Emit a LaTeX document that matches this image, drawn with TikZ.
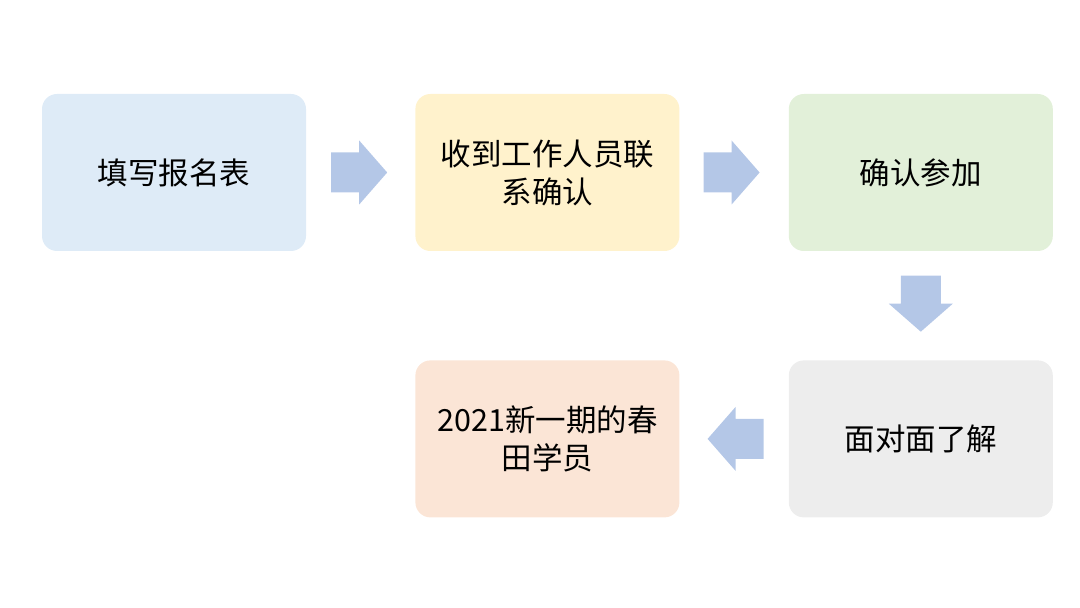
\documentclass[tikz,border=0pt]{standalone}
\usepackage{fontspec}
\setmainfont{Noto Sans CJK SC}
\usetikzlibrary{positioning,calc}

\definecolor{boxblue}{HTML}{DEEBF7}
\definecolor{boxgold}{HTML}{FFF2CC}
\definecolor{boxgreen}{HTML}{E2F0D9}
\definecolor{boxgray}{HTML}{EDEDED}
\definecolor{boxpeach}{HTML}{FBE5D6}
\definecolor{arrowblue}{HTML}{B4C7E7}

\tikzset{
  stagebox/.style={rectangle, rounded corners=15pt, minimum width=264pt,
    minimum height=157pt, inner sep=0pt, align=center,
    font=\fontsize{30.5pt}{38pt}\selectfont},
  pics/flowarrow/.style={code={
    \fill[arrowblue] (-28pt,-20pt) -- (0pt,-20pt) -- (0pt,-32pt) -- (28pt,0pt)
      -- (0pt,32pt) -- (0pt,20pt) -- (-28pt,20pt) -- cycle;
  }}
}

\begin{document}
\begin{tikzpicture}
  \useasboundingbox (0,0) rectangle (1080pt,608pt);
  % Tell it where the boxes are
  \node (signup) [stagebox, fill=boxblue] at (174pt,435.5pt) {填写报名表};
  \node (contact) [stagebox, fill=boxgold, right=109pt of signup] {收到工作人员联\\系确认};
  \node (confirm) [stagebox, fill=boxgreen, right=109pt of contact] {确认参加};
  \node (meet) [stagebox, fill=boxgray, below=109pt of confirm] {面对面了解};
  \node (student) [stagebox, fill=boxpeach, left=109pt of meet] {2021新一期的春\\田学员};
  % Tell it where the arrows go
  \coordinate (midA) at ($(signup.east)!0.5!(contact.west)$);
  \coordinate (midB) at ($(contact.east)!0.5!(confirm.west)$);
  \coordinate (midC) at ($(confirm.south)!0.5!(meet.north)$);
  \coordinate (midD) at ($(meet.west)!0.5!(student.east)$);
  \pic at ([xshift=-1.5pt]midA) {flowarrow};
  \pic at ([xshift=-2.5pt]midB) {flowarrow};
  \pic[rotate=-90] at ([yshift=2pt]midC) {flowarrow};
  \pic[rotate=180] at ([xshift=1.5pt]midD) {flowarrow};
\end{tikzpicture}
\end{document}
